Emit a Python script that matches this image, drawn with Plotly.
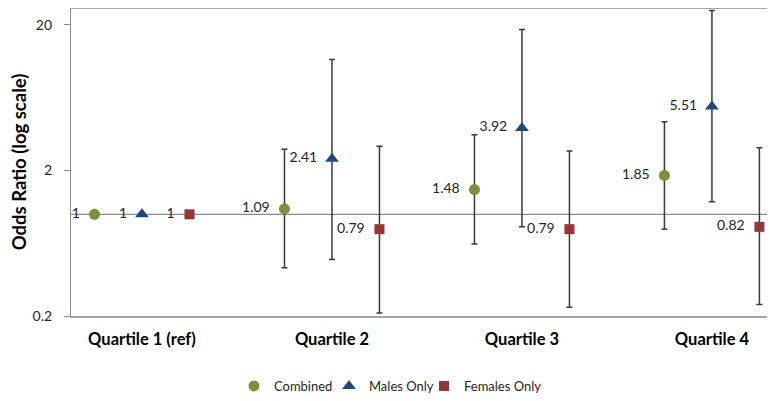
import plotly.graph_objects as go
import math

categories = ["Quartile 1 (ref)", "Quartile 2", "Quartile 3", "Quartile 4"]
series_names = ["Combined", "Males Only", "Females Only"]

combined_or = [1, 1.09, 1.48, 1.85]
combined_lo = [None, 0.43, 0.625, 0.79]
combined_hi = [None, 2.80, 3.52, 4.33]

males_or = [1, 2.41, 3.92, 5.51]
males_lo = [None, 0.49, 0.82, 1.22]
males_hi = [None, 11.6, 18.6, 25.2]

females_or = [1, 0.79, 0.79, 0.82]
females_lo = [None, 0.21, 0.23, 0.24]
females_hi = [None, 2.94, 2.72, 2.87]

y_tick_vals = [0.2, 2, 20]
y_tick_text = ["0.2", "2", "20"]
reference_value = 1

colors = ["#77933C", "#1F497D", "#953735"]
symbols = ["circle", "triangle-up", "square"]
offsets = [-0.25, 0.0, 0.25]
sizes = [11, 12, 10]

FONT = "Lato"
series = [
    (combined_or, combined_lo, combined_hi),
    (males_or, males_lo, males_hi),
    (females_or, females_lo, females_hi),
]

fig = go.Figure()
# data labels (placed left of markers, with a gap)
for k, (vals, lo, hi) in enumerate(series):
    xs = [i + offsets[k] for i in range(len(categories))]
    fig.add_trace(go.Scatter(
        x=xs, y=vals, mode="text+markers", showlegend=False, hoverinfo="skip",
        text=[f"{v:g}" for v in vals], textposition="middle left",
        textfont=dict(family=FONT, size=14, color="#262626"),
        marker=dict(size=22, opacity=0, color="white"),
        cliponaxis=False,
    ))

for k, (vals, lo, hi) in enumerate(series):
    xs = [i + offsets[k] for i in range(len(categories))]
    up = [(h - v) if h is not None else None for v, h in zip(vals, hi)]
    dn = [(v - l) if l is not None else None for v, l in zip(vals, lo)]
    fig.add_trace(go.Scatter(
        x=xs, y=vals, mode="markers", name=series_names[k],
        marker=dict(symbol=symbols[k], size=sizes[k], color=colors[k]),
        error_y=dict(type="data", symmetric=False, array=up, arrayminus=dn,
                     color="#3a3a3a", thickness=1.5, width=3),
        cliponaxis=False,
    ))

# invisible spacer entry so the last legend label is not clipped
fig.add_trace(go.Scatter(x=[None], y=[None], mode="markers", name=" ",
                         marker=dict(opacity=0), hoverinfo="skip", showlegend=True))

fig.add_shape(type="line", xref="paper", yref="y", x0=0, x1=1,
              y0=reference_value, y1=reference_value,
              line=dict(color="#8c8c8c", width=1.2), layer="below")
fig.add_shape(type="line", xref="paper", yref="paper", x0=0, x1=1, y0=1, y1=1,
              line=dict(color="#8c8c8c", width=1.5))

fig.update_layout(
    width=767, height=385,
    margin=dict(l=63, r=0, t=0, b=77, autoexpand=False),
    paper_bgcolor="white", plot_bgcolor="white",
    font=dict(family=FONT, color="#262626"),
    showlegend=True,
    legend=dict(orientation="h", x=0.2315, xanchor="left", y=-0.2273, yanchor="middle",
                font=dict(family=FONT, size=13, color="#262626"),
                itemwidth=30, tracegroupgap=0,
                entrywidth=50, entrywidthmode="pixels",
                bgcolor="rgba(0,0,0,0)"),
    xaxis=dict(
        range=[-0.3737, 3.332],
        tickmode="array", tickvals=list(range(len(categories))), ticktext=categories,
        tickfont=dict(family=FONT, size=16.5, color="#000000", weight="bold"),
        showgrid=False, zeroline=False,
        showline=True, linecolor="#a6a6a6", linewidth=2,
        ticks="", ticklabelstandoff=7,
    ),
    yaxis=dict(
        type="log", range=[math.log10(0.2), math.log10(0.2) + 2.1168],
        tickmode="array", tickvals=y_tick_vals, ticktext=y_tick_text,
        tickfont=dict(family=FONT, size=14, color="#262626"),
        showgrid=False, zeroline=False,
        showline=True, linecolor="#8c8c8c", linewidth=1.2,
        ticks="outside", ticklen=6, tickcolor="#8c8c8c", tickwidth=1,
        ticklabelstandoff=9,
        title=dict(text="Odds Ratio (log scale)",
                   font=dict(family=FONT, size=18.5, color="#000000", weight="bold"),
                   standoff=6),
    ),
)

fig.write_html("out.html")
